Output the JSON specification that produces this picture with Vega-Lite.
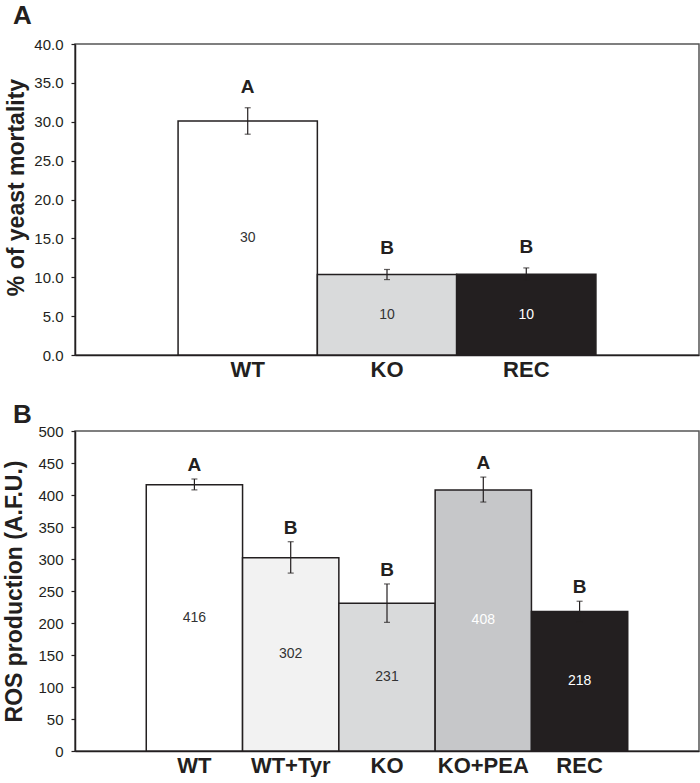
{
  "$schema": "https://vega.github.io/schema/vega-lite/v6.json",
  "padding": {"left": 3, "top": 2, "right": 0, "bottom": 0},
  "background": "white",
  "config": {
    "font": "Liberation Sans",
    "view": {"stroke": "#555555", "strokeWidth": 1.5},
    "axis": {"grid": false, "labelOverlap": false, "domainColor": "#231f20", "domainWidth": 1.5, "tickColor": "#231f20", "tickWidth": 1.2, "labelColor": "#231f20", "titleColor": "#231f20", "labelFont": "Liberation Sans", "titleFont": "Liberation Sans"},
    "axisY": {"labelOverlap": false, "labelFontSize": 15, "tickSize": 4, "labelPadding": 8, "titleFontSize": 23, "titleFontWeight": "bold"},
    "concat": {"spacing": 20}
  },
  "resolve": {"scale": {"color": "independent", "x": "independent", "y": "independent"}},
  "vconcat": [
    {
      "width": 624,
      "height": 311,
      "title": {"text": "A", "anchor": "start", "frame": "group", "dx": -62, "fontSize": 26, "fontWeight": "bold", "color": "#231f20", "offset": 8},
      "data": {"values": [
        {"group": "WT", "mean": 30.1, "lo": 28.4, "hi": 31.8, "label": "30", "sig": "A"},
        {"group": "KO", "mean": 10.35, "lo": 9.7, "hi": 11.0, "label": "10", "sig": "B"},
        {"group": "REC", "mean": 10.4, "lo": 9.6, "hi": 11.2, "label": "10", "sig": "B"}
      ]},
      "transform": [{"calculate": "datum.mean / 2", "as": "mid"}],
      "encoding": {
        "x": {"field": "group", "type": "nominal", "sort": null,
              "scale": {"paddingInner": 0, "paddingOuter": 0.74},
              "axis": {"title": null, "labelAngle": 0, "ticks": false, "labelFontSize": 22, "labelFontWeight": "bold", "labelPadding": 4}}
      },
      "layer": [
        {
          "mark": {"type": "bar", "stroke": "#231f20", "strokeWidth": 1.5},
          "encoding": {
            "y": {"field": "mean", "type": "quantitative",
                  "scale": {"domain": [0, 40]},
                  "axis": {"title": "% of yeast mortality", "titleY": 143, "values": [0, 5, 10, 15, 20, 25, 30, 35, 40], "tickCount": 9, "format": ".1f", "titlePadding": 5}},
            "color": {"field": "group", "type": "nominal", "legend": null,
                      "scale": {"domain": ["WT", "KO", "REC"], "range": ["#ffffff", "#d9dadb", "#231f20"]}}
          }
        },
        {
          "mark": {"type": "rule", "color": "#231f20", "strokeWidth": 1.2},
          "encoding": {"y": {"field": "lo", "type": "quantitative", "axis": {"values": [0, 5, 10, 15, 20, 25, 30, 35, 40], "tickCount": 9}}, "y2": {"field": "hi"}}
        },
        {
          "mark": {"type": "tick", "color": "#231f20", "size": 6, "thickness": 1.2},
          "encoding": {"y": {"field": "lo", "type": "quantitative", "axis": {"values": [0, 5, 10, 15, 20, 25, 30, 35, 40], "tickCount": 9}}}
        },
        {
          "mark": {"type": "tick", "color": "#231f20", "size": 6, "thickness": 1.2},
          "encoding": {"y": {"field": "hi", "type": "quantitative", "axis": {"values": [0, 5, 10, 15, 20, 25, 30, 35, 40], "tickCount": 9}}}
        },
        {
          "mark": {"type": "text", "fontSize": 14, "baseline": "middle"},
          "encoding": {
            "y": {"field": "mid", "type": "quantitative", "axis": {"values": [0, 5, 10, 15, 20, 25, 30, 35, 40], "tickCount": 9}},
            "text": {"field": "label"},
            "color": {"condition": {"test": "datum.group === 'REC' || datum.group === 'KO+PEA'", "value": "#ffffff"}, "value": "#333333"}
          }
        },
        {
          "mark": {"type": "text", "fontSize": 19, "fontWeight": "bold", "baseline": "alphabetic", "dy": -15, "color": "#231f20"},
          "encoding": {
            "y": {"field": "hi", "type": "quantitative", "axis": {"values": [0, 5, 10, 15, 20, 25, 30, 35, 40], "tickCount": 9}},
            "text": {"field": "sig"}
          }
        }
      ]
    },
    {
      "width": 624,
      "height": 320,
      "title": {"text": "B", "anchor": "start", "frame": "group", "dx": -62, "fontSize": 26, "fontWeight": "bold", "color": "#231f20", "offset": -4},
      "data": {"values": [
        {"group": "WT", "mean": 416, "lo": 408, "hi": 425, "label": "416", "sig": "A"},
        {"group": "WT+Tyr", "mean": 302, "lo": 278, "hi": 327, "label": "302", "sig": "B"},
        {"group": "KO", "mean": 231, "lo": 201, "hi": 261, "label": "231", "sig": "B"},
        {"group": "KO+PEA", "mean": 408, "lo": 389, "hi": 428, "label": "408", "sig": "A"},
        {"group": "REC", "mean": 218, "lo": 202, "hi": 234, "label": "218", "sig": "B"}
      ]},
      "transform": [{"calculate": "datum.mean / 2", "as": "mid"}],
      "encoding": {
        "x": {"field": "group", "type": "nominal", "sort": null,
              "scale": {"paddingInner": 0, "paddingOuter": 0.74},
              "axis": {"title": null, "labelAngle": 0, "ticks": false, "labelFontSize": 22, "labelFontWeight": "bold", "labelPadding": 4}}
      },
      "layer": [
        {
          "mark": {"type": "bar", "stroke": "#231f20", "strokeWidth": 1.5},
          "encoding": {
            "y": {"field": "mean", "type": "quantitative",
                  "scale": {"domain": [0, 500]},
                  "axis": {"title": "ROS production (A.F.U.)", "values": [0, 50, 100, 150, 200, 250, 300, 350, 400, 450, 500], "tickCount": 11, "titlePadding": 11}},
            "color": {"field": "group", "type": "nominal", "legend": null,
                      "scale": {"domain": ["WT", "WT+Tyr", "KO", "KO+PEA", "REC"], "range": ["#ffffff", "#f2f2f2", "#d9dadb", "#c6c7c9", "#231f20"]}}
          }
        },
        {
          "mark": {"type": "rule", "color": "#231f20", "strokeWidth": 1.2},
          "encoding": {"y": {"field": "lo", "type": "quantitative", "axis": {"values": [0, 50, 100, 150, 200, 250, 300, 350, 400, 450, 500], "tickCount": 11}}, "y2": {"field": "hi"}}
        },
        {
          "mark": {"type": "tick", "color": "#231f20", "size": 6, "thickness": 1.2},
          "encoding": {"y": {"field": "lo", "type": "quantitative", "axis": {"values": [0, 50, 100, 150, 200, 250, 300, 350, 400, 450, 500], "tickCount": 11}}}
        },
        {
          "mark": {"type": "tick", "color": "#231f20", "size": 6, "thickness": 1.2},
          "encoding": {"y": {"field": "hi", "type": "quantitative", "axis": {"values": [0, 50, 100, 150, 200, 250, 300, 350, 400, 450, 500], "tickCount": 11}}}
        },
        {
          "mark": {"type": "text", "fontSize": 14, "baseline": "middle"},
          "encoding": {
            "y": {"field": "mid", "type": "quantitative", "axis": {"values": [0, 50, 100, 150, 200, 250, 300, 350, 400, 450, 500], "tickCount": 11}},
            "text": {"field": "label"},
            "color": {"condition": {"test": "datum.group === 'REC' || datum.group === 'KO+PEA'", "value": "#ffffff"}, "value": "#333333"}
          }
        },
        {
          "mark": {"type": "text", "fontSize": 19, "fontWeight": "bold", "baseline": "alphabetic", "dy": -8, "color": "#231f20"},
          "encoding": {
            "y": {"field": "hi", "type": "quantitative", "axis": {"values": [0, 50, 100, 150, 200, 250, 300, 350, 400, 450, 500], "tickCount": 11}},
            "text": {"field": "sig"}
          }
        }
      ]
    }
  ]
}
